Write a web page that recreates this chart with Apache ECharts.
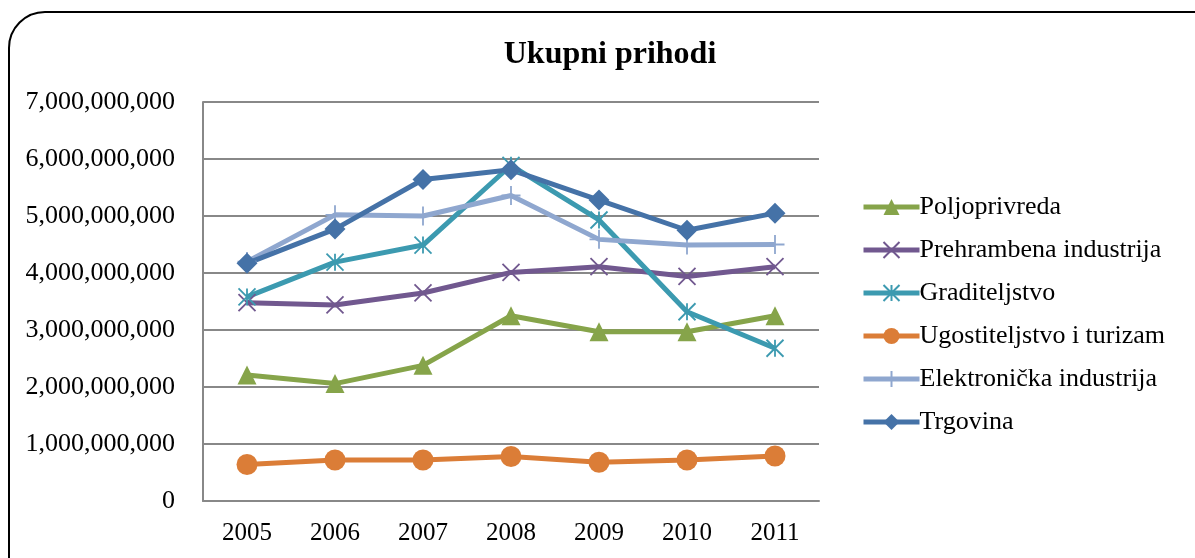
<!DOCTYPE html>
<html lang="hr">
<head>
  <meta charset="UTF-8">
  <title>Ukupni prihodi</title>
  <style>
    html, body { margin: 0; padding: 0; background: #fff; }
  </style>
</head>
<body>
  <div id="main" style="width: 1195px; height: 558px"></div>

  <script src="https://cdn.jsdelivr.net/npm/echarts@6/dist/echarts.min.js"></script>
  <script>
    // godine
    var years = ['2005', '2006', '2007', '2008', '2009', '2010', '2011']

    // vrijednosti po djelatnostima (procjena s grafa)
    var poljoprivreda = [2.21e9, 2.06e9, 2.38e9, 3.25e9, 2.97e9, 2.97e9, 3.25e9]
    var prehrambena = [3.48e9, 3.44e9, 3.65e9, 4.01e9, 4.11e9, 3.94e9, 4.11e9]
    var graditeljstvo = [3.58e9, 4.19e9, 4.49e9, 5.89e9, 4.93e9, 3.32e9, 2.68e9]
    var ugostiteljstvo = [0.64e9, 0.72e9, 0.72e9, 0.78e9, 0.68e9, 0.72e9, 0.79e9]
    var elektronicka = [4.2e9, 5.02e9, 5.0e9, 5.36e9, 4.59e9, 4.49e9, 4.5e9]
    var trgovina = [4.17e9, 4.77e9, 5.64e9, 5.81e9, 5.28e9, 4.75e9, 5.05e9]

    var serif = '"Liberation Serif", "DejaVu Serif", serif'

    var myChart = echarts.init(document.getElementById('main'))

    function mkSeries(name, data, color, symbol, size, extra) {
      var s = {
        name: name,
        type: 'line',
        data: data,
        symbol: symbol,
        symbolSize: size,
        showAllSymbol: true,
        lineStyle: { color: color, width: 5 },
        itemStyle: { color: color },
        emphasis: { disabled: true }
      }
      if (extra) Object.assign(s, extra)
      return s
    }

    // kriz, zvjezdica i plus kao path simboli (samo obrub)
    var crossPath = 'path://M0,0L10,10M10,0L0,10'
    var starPath = 'path://M5,0L5,10M0,0L10,10M10,0L0,10'
    var plusPath = 'path://M5,0L5,10M0,5L10,5'

    function strokeSym(color) {
      return { itemStyle: { color: 'none', borderColor: color, borderWidth: 1.8 } }
    }

    var option = {
      animation: false,
      backgroundColor: '#fff',
      title: {
        text: 'Ukupni prihodi',
        left: 605,
        top: 34,
        textAlign: 'center',
        textStyle: { fontFamily: serif, fontSize: 32, fontWeight: 'bold', color: '#000' }
      },
      graphic: [{
        type: 'rect',
        shape: { x: 9, y: 12, width: 1230, height: 600, r: 36 },
        style: { fill: 'none', stroke: '#000', lineWidth: 2 },
        silent: true
      }],
      legend: {
        orient: 'vertical',
        left: 856,
        top: 189,
        itemGap: 17,
        itemWidth: 56,
        itemHeight: 20,
        lineStyle: { width: 5 },
        textStyle: { fontFamily: serif, fontSize: 26, lineHeight: 26, color: '#000', padding: [0, 0, 0, -5] },
        data: ['Poljoprivreda', 'Prehrambena industrija', 'Graditeljstvo',
          'Ugostiteljstvo i turizam', 'Elektronička industrija', 'Trgovina']
      },
      grid: { left: 203, right: 376, top: 102, bottom: 57 },
      xAxis: {
        type: 'category',
        data: years,
        boundaryGap: true,
        axisTick: { show: false },
        axisLine: { lineStyle: { color: '#888', width: 2 } },
        axisLabel: { fontFamily: serif, fontSize: 25, color: '#000', margin: 20 }
      },
      yAxis: {
        type: 'value',
        min: 0,
        max: 7000000000,
        interval: 1000000000,
        axisLine: { show: true, lineStyle: { color: '#888', width: 2 } },
        axisTick: { show: false },
        splitLine: { lineStyle: { color: '#888', width: 2 } },
        axisLabel: {
          fontFamily: serif, fontSize: 26, color: '#000', margin: 28,
          padding: [5, 0, 0, 0],
          formatter: function (v) { return v.toLocaleString('en-US') }
        }
      },
      series: [
        mkSeries('Poljoprivreda', poljoprivreda, '#86a44a', 'triangle', 19),
        mkSeries('Prehrambena industrija', prehrambena, '#71588f', crossPath, 17, strokeSym('#71588f')),
        mkSeries('Graditeljstvo', graditeljstvo, '#3c9ab0', starPath, 17, strokeSym('#3c9ab0')),
        mkSeries('Ugostiteljstvo i turizam', ugostiteljstvo, '#db7d37', 'circle', 21),
        mkSeries('Elektronička industrija', elektronicka, '#8fa7cf', plusPath, 19, strokeSym('#8fa7cf')),
        mkSeries('Trgovina', trgovina, '#4572a7', 'diamond', 21)
      ]
    }

    myChart.setOption(option)
  </script>
</body>
</html>
